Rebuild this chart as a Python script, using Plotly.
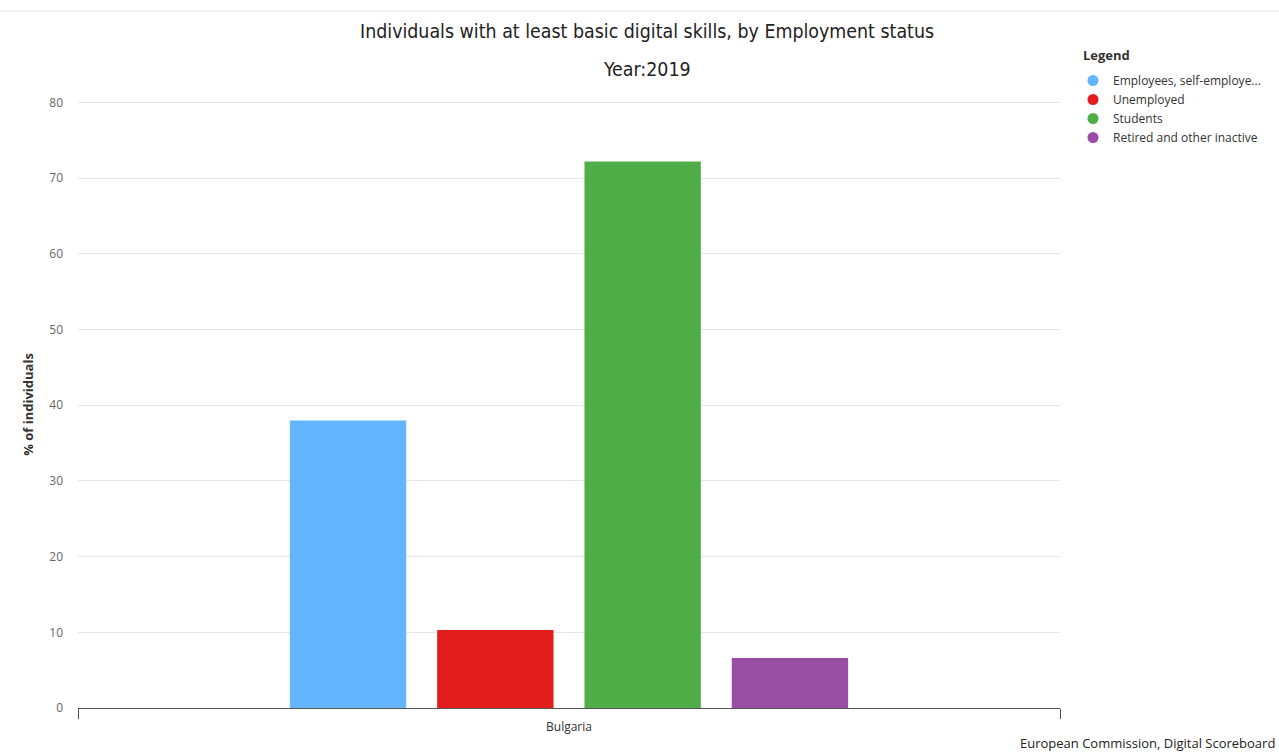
import plotly.graph_objects as go

categories = ["Bulgaria"]
series_names = ["Employees, self-employe...", "Unemployed", "Students", "Retired and other inactive"]
series_values = [[38.0], [10.3], [72.2], [6.6]]
colors = ["#63b5fd", "#e31c1c", "#4fae48", "#984ea3"]
y_ticks = [0, 10, 20, 30, 40, 50, 60, 70, 80]

TITLE_FONT = "DejaVu Sans Condensed, DejaVu Sans, sans-serif"
FONT = "Open Sans, DejaVu Sans, sans-serif"

fig = go.Figure()
for name, vals, c in zip(series_names, series_values, colors):
    fig.add_trace(go.Bar(x=categories, y=vals, name=name, marker=dict(color=c, line=dict(width=0)),
                         showlegend=False))
for name, c in zip(series_names, colors):
    fig.add_trace(go.Scatter(x=[None], y=[None], mode="markers", name=name,
                             marker=dict(color=c, size=11, symbol="circle")))

fig.update_layout(
    width=1279, height=752,
    margin=dict(l=78, r=219, t=101, b=44),
    paper_bgcolor="white", plot_bgcolor="white",
    font=dict(family=FONT, color="#333333"),
    barmode="group", bargap=0.4, bargroupgap=0.21,
    showlegend=True,
    legend=dict(x=(1073-78)/982, y=(708-66)/607, xanchor="left", yanchor="top",
                font=dict(size=12, color="#333333"), itemwidth=30, tracegroupgap=0,
                bgcolor="rgba(0,0,0,0)"),
    xaxis=dict(showline=True, linecolor="#555555", linewidth=1, ticks="outside", tickson="boundaries",
               ticklen=10, tickcolor="#555555", showgrid=False, ticklabelstandoff=8,
               tickfont=dict(size=12, color="#333333")),
    yaxis=dict(range=[0, 80.2], tickvals=y_ticks, showgrid=True, gridcolor="#e6e6e6", zeroline=False,
               tickfont=dict(size=12, color="#666666"), ticklabelstandoff=14,
               title=dict(text="<b>% of individuals</b>", font=dict(size=13, color="#333333"), standoff=12)),
    shapes=[dict(type="line", xref="paper", yref="paper", x0=-78/982, x1=1201/982,
                 y0=(708-11)/607, y1=(708-11)/607, line=dict(color="#e3e7ec", width=1))],
    annotations=[
        dict(text="Individuals with at least basic digital skills, by Employment status", xref="paper", yref="paper",
             x=(647-78)/982, y=(708-32)/607, xanchor="center", yanchor="middle", showarrow=False,
             font=dict(family=TITLE_FONT, size=19.4, color="#222222")),
        dict(text="Year:2019", xref="paper", yref="paper",
             x=(647-78)/982, y=(708-69)/607, xanchor="center", yanchor="middle", showarrow=False,
             font=dict(family=TITLE_FONT, size=19.4, color="#222222")),
        dict(text="<b>Legend</b>", xref="paper", yref="paper",
             x=(1081-78)/982, y=(708-55)/607, xanchor="left", yanchor="middle", showarrow=False,
             font=dict(size=13, color="#333333")),
        dict(text="European Commission, Digital Scoreboard", xref="paper", yref="paper",
             x=(1277-78)/982, y=(708-743)/607, xanchor="right", yanchor="middle", showarrow=False,
             font=dict(size=13, color="#222222")),
    ],
)

fig.write_html("out.html")
